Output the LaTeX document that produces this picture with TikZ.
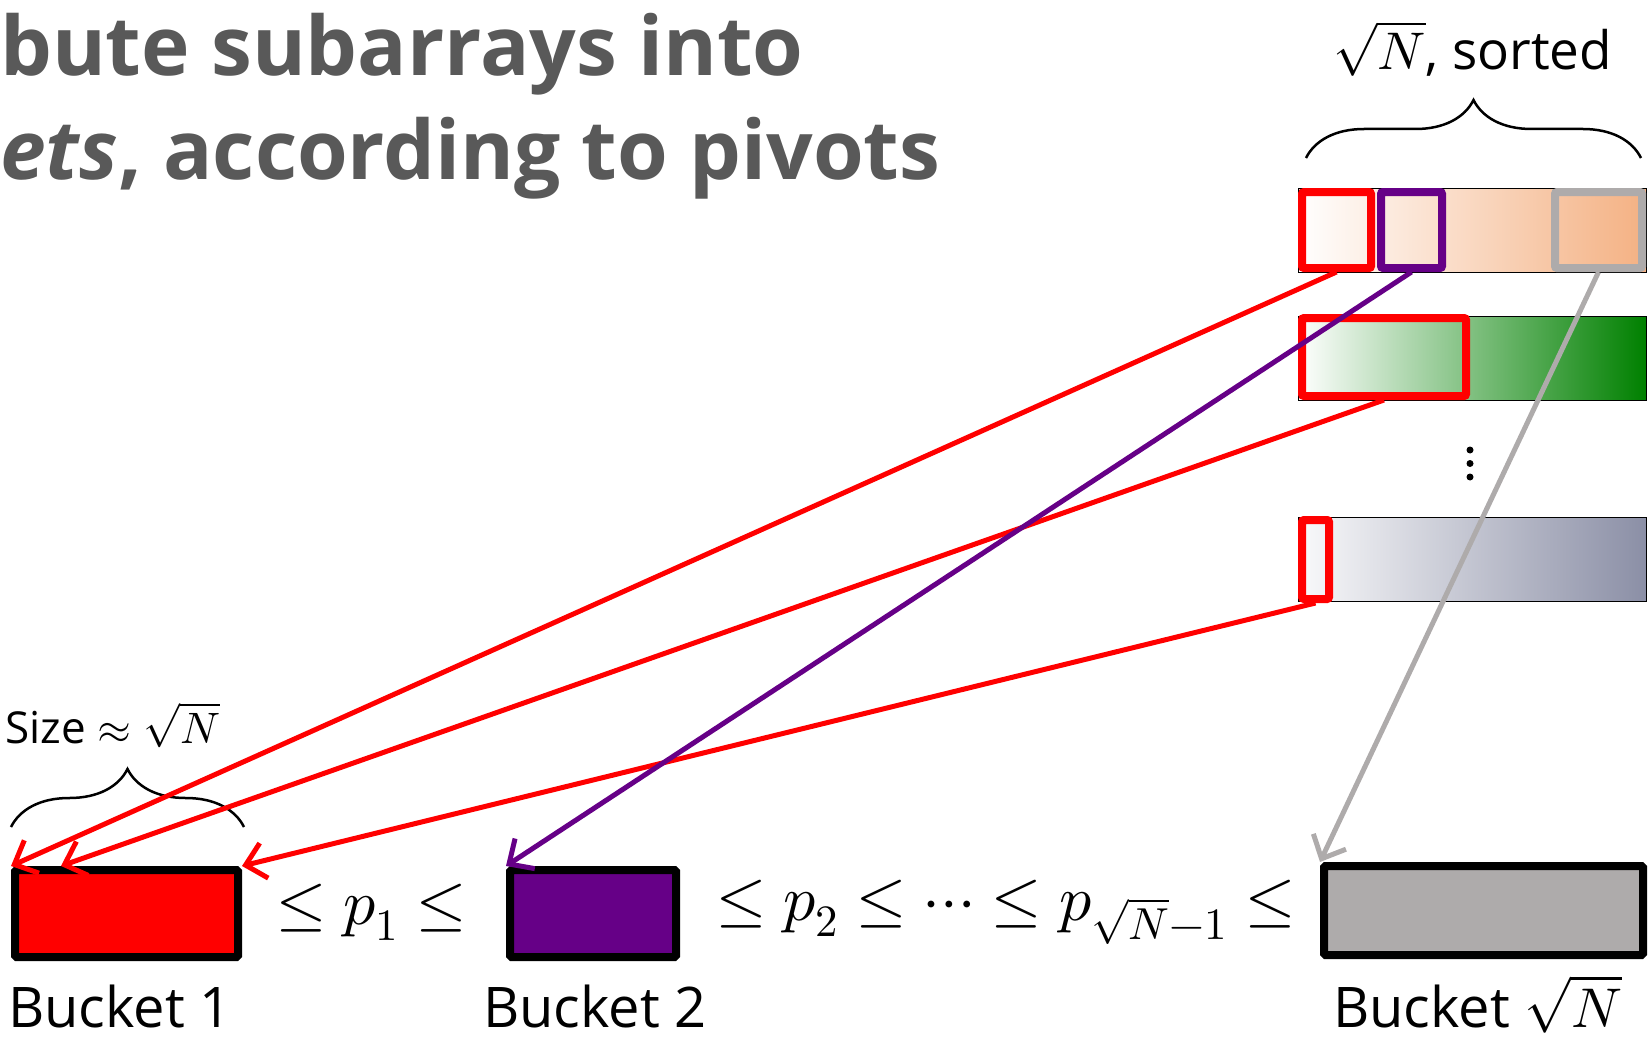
\documentclass[tikz,border=0pt]{standalone}
\usepackage{amsmath}
\usepackage{fontspec}
\usepackage{unicode-math}
\setmainfont{Open Sans}
\setmathfont{Latin Modern Math}
\usetikzlibrary{arrows.meta,positioning,decorations.pathreplacing}

\definecolor{titlegray}{HTML}{595959}
\definecolor{bpurple}{HTML}{660087}
\definecolor{bgray}{HTML}{AEABAB}
\definecolor{sortorange}{HTML}{F4B183}
\definecolor{sortgreen}{HTML}{008000}
\definecolor{sortslate}{HTML}{8B8FA6}

\tikzset{
  bucket/.style={draw=black, line width=8pt, rounded corners=1.5pt, inner sep=0pt},
  subarr/.style={draw=black, line width=1pt, inner sep=0pt, minimum width=348pt, minimum height=84pt},
  pick/.style={line width=8pt, rounded corners=2pt, inner sep=0pt},
  move/.style={line width=5pt, -{Straight Barb[length=19pt,width=36pt]}},
  bigbrace/.style={decorate, decoration={brace, amplitude=58pt}, line width=2.5pt},
}

\begin{document}
\begin{tikzpicture}[x=1pt,y=-1pt]
  \useasboundingbox (0,0) rectangle (1652,1038);
  % title
  \node[anchor=base west, inner sep=0, text=titlegray, font=\fontsize{82}{94}\selectfont\bfseries] (title1) at (0,76) {bute subarrays into};
  \node[anchor=base west, inner sep=0, text=titlegray, font=\fontsize{82}{94}\selectfont\bfseries] (title2) at (0,179) {\textit{ets}, according to pivots};
  % sorted subarrays
  \node[anchor=base west, inner sep=0, font=\fontsize{53}{64}\selectfont] (sortlbl) at (1333,70) {$\sqrt{N}$, sorted};
  \draw[bigbrace] (1306,158) -- (1641,158);
  \node[subarr, left color=white, right color=sortorange] (arr1) at (1472,230) {};
  \node[subarr, left color=white, right color=sortgreen] (arr2) at (1472,358) {};
  \node[subarr, left color=white!95!sortslate, right color=sortslate] (arr3) at (1472,559) {};
  \foreach \y in {450,463.5,477} \fill (1470,\y) circle (3.5pt);
  % picked runs
  \node[pick, draw=red, minimum width=69pt, minimum height=76pt] (run1) at (1336.5,230) {};
  \node[pick, draw=bpurple, minimum width=61pt, minimum height=76pt] (run2) at (1411.5,230) {};
  \node[pick, draw=bgray, minimum width=87pt, minimum height=76pt] (run3) at (1598.5,230) {};
  \node[pick, draw=red, minimum width=164pt, minimum height=78pt] (run4) at (1384,357) {};
  \node[pick, draw=red, minimum width=27pt, minimum height=79pt] (run5) at (1315.5,559.5) {};
  % buckets
  \node[anchor=base west, inner sep=0, font=\fontsize{44}{52}\selectfont] (sizelbl) at (5,743) {Size $\approx\sqrt{N}$};
  \draw[bigbrace] (11,827) -- (244,827);
  \node[bucket, fill=red, minimum width=223pt, minimum height=87pt] (b1) at (126.5,913.5) {};
  \node[bucket, fill=bpurple, minimum width=166pt, minimum height=87pt] (b2) at (593,913.5) {};
  \node[bucket, fill=bgray, minimum width=319pt, minimum height=89pt] (bN) at (1483.5,910.5) {};
  \node[anchor=west, inner sep=0, font=\fontsize{64}{70}\selectfont] (rel1) at (276,912) {$\le p_1 \le$};
  \node[anchor=west, inner sep=0, font=\fontsize{64}{70}\selectfont] (rel2) at (716,912) {$\le p_2 \le \cdots \le p_{\sqrt{N}-1} \le$};
  \node[anchor=base west, inner sep=0, font=\fontsize{56}{64}\selectfont] (lb1) at (8,1027) {Bucket 1};
  \node[anchor=base west, inner sep=0, font=\fontsize{56}{64}\selectfont] (lb2) at (483,1027) {Bucket 2};
  \node[anchor=base west, inner sep=0, font=\fontsize{56}{64}\selectfont] (lbN) at (1333,1027) {Bucket $\sqrt{N}$};
  % moves
  \draw[move, red] (run1.south) -- (b1.north west);
  \draw[move, red] (run4.south) -- ([xshift=50pt]b1.north west);
  \draw[move, red] (run5.south) -- (b1.north east);
  \draw[move, bpurple] (run2.south) -- (b2.north west);
  \draw[move, bgray] (run3.south) -- (bN.north west);
\end{tikzpicture}
\end{document}
